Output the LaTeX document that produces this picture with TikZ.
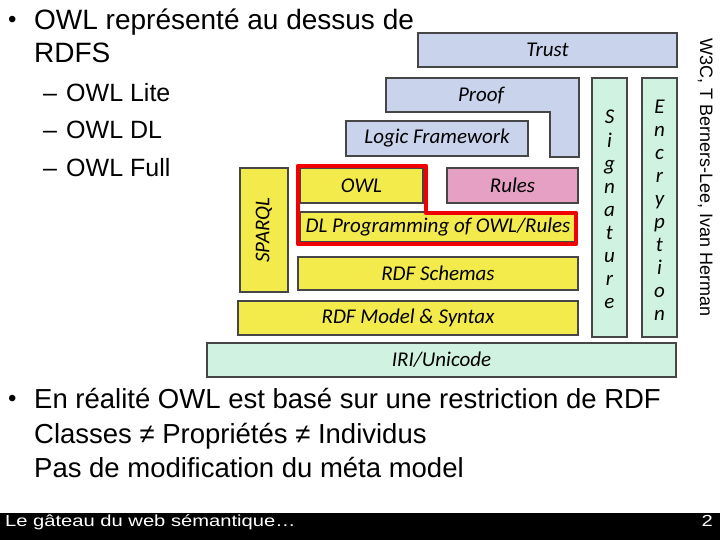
\documentclass[tikz,border=0pt]{standalone}
\usepackage{fontspec}
\setmainfont{Liberation Sans}
\newfontfamily\gill{Carlito}
\definecolor{wblue}{RGB}{201,211,236}
\definecolor{wyellow}{RGB}{243,234,76}
\definecolor{wpink}{RGB}{229,160,196}
\definecolor{wgreen}{RGB}{208,242,224}
\definecolor{wred}{RGB}{240,0,0}
\definecolor{wborder}{RGB}{70,70,70}
\begin{document}
\begin{tikzpicture}[x=1bp,y=-1bp,
  layer/.style={draw=wborder, line width=1.3bp, inner sep=0pt,
    font=\gill\itshape\fontsize{21bp}{23bp}\selectfont},
  lbl/.style={inner sep=0pt, font=\gill\itshape\fontsize{21bp}{23bp}\selectfont},
  big/.style={inner sep=0pt, anchor=base west, font=\fontsize{28bp}{32bp}\selectfont},
  bigb/.style={inner sep=0pt, anchor=base west, font=\fontsize{27.5bp}{32bp}\selectfont},
  bul/.style={inner sep=0pt, anchor=base west, font=\fontsize{24bp}{26bp}\selectfont},
  sub/.style={inner sep=0pt, anchor=base west, font=\fontsize{25bp}{28bp}\selectfont},
  redline/.style={draw=wred, line width=4.5bp, line join=round}]
\useasboundingbox (0,0) rectangle (720,540);
\fill[white] (0,0) rectangle (720,540);

% ---- slide text ----
\node[bul] (b1) at (8,28) {\textbullet};
\node[big] (t1) at (34,30) {OWL représenté au dessus de};
\node[big] (t2) at (34,63) {RDFS};
\node[sub] (d1) at (43,102) {–};
\node[sub] (s1) at (66,102) {OWL Lite};
\node[sub] (d2) at (43,139) {–};
\node[sub] (s2) at (66,139) {OWL DL};
\node[sub] (d3) at (43,177) {–};
\node[sub] (s3) at (66,177) {OWL Full};

\node[bul] (b2) at (8,406) {\textbullet};
\node[bigb] (u1) at (34,408) {En réalité OWL est basé sur une restriction de RDF};
\node[bigb] (u2) at (34,443) {Classes ≠ Propriétés ≠ Individus};
\node[bigb] (u3) at (34,477) {Pas de modification du méta model};

% ---- layer cake ----
\node[layer, fill=wblue, minimum width=259bp, minimum height=34bp] (trust) at (547.5,50) {Trust};
\path[draw=wborder, line width=1.3bp, fill=wblue]
  (386,78) -- (579,78) -- (579,157) -- (550,157) -- (550,112) -- (386,112) -- cycle;
\node[lbl] (proof) at (481,96) {Proof};
\node[layer, fill=wblue, minimum width=182bp, minimum height=35bp] (logic) at (437,138.5) {Logic Framework};
\node[layer, fill=wyellow, minimum width=123bp, minimum height=35bp] (owl) at (361.5,185.5) {OWL};
\node[layer, fill=wpink, minimum width=131bp, minimum height=35bp] (rules) at (512.5,185.5) {Rules};
\node[layer, fill=wyellow, minimum width=276bp, minimum height=30bp] (dl) at (438,227) {DL Programming of OWL/Rules};
\node[layer, fill=wyellow, minimum width=48bp, minimum height=124bp] (sparql) at (264,230) {};
\node[lbl, rotate=90] (sparqlt) at (sparql.center) {SPARQL};
\node[layer, fill=wyellow, minimum width=280bp, minimum height=33bp] (rdfs) at (438,273.5) {RDF Schemas};
\node[layer, fill=wyellow, minimum width=340bp, minimum height=34bp] (rdfm) at (408,318) {RDF Model \& Syntax};
\node[layer, fill=wgreen, minimum width=469bp, minimum height=34bp] (iri) at (441.5,360) {IRI/Unicode};
\node[layer, fill=wgreen, minimum width=35bp, minimum height=259bp] (sig) at (609.5,207.5) {};
\node[layer, fill=wgreen, minimum width=35bp, minimum height=259bp] (enc) at (659.5,207.5) {};
\foreach \c [count=\i from 0] in {S,i,g,n,a,t,u,r,e}
  \node[lbl, anchor=base] (sig\i) at (609.5,{124+23.1*\i}) {\c};
\foreach \c [count=\i from 0] in {E,n,c,r,y,p,t,i,o,n}
  \node[lbl, anchor=base] (enc\i) at (659.5,{114+22.9*\i}) {\c};

% ---- red highlight ----
\draw[redline] (298,166) -- (426,166) -- (426,213) -- (576,213) -- (576,244) -- (298,244) -- cycle;

% ---- credit ----
\node[inner sep=0pt, rotate=-90, anchor=base west, font=\fontsize{18bp}{20bp}\selectfont] (credit) at (700,38) {W3C, T Berners-Lee, Ivan Herman};

% ---- footer ----
\fill[black] (0,513) rectangle (720,540);
\node[inner sep=0pt, anchor=base west, text=white, font=\fontsize{16bp}{18bp}\selectfont] (foot) at (5,526.5) {\scalebox{1.26}[1]{Le gâteau du web sémantique…}};
\node[inner sep=0pt, anchor=base east, text=white, font=\fontsize{16bp}{18bp}\selectfont] (page) at (713,526.5) {\scalebox{1.26}[1]{2}};
\end{tikzpicture}
\end{document}
